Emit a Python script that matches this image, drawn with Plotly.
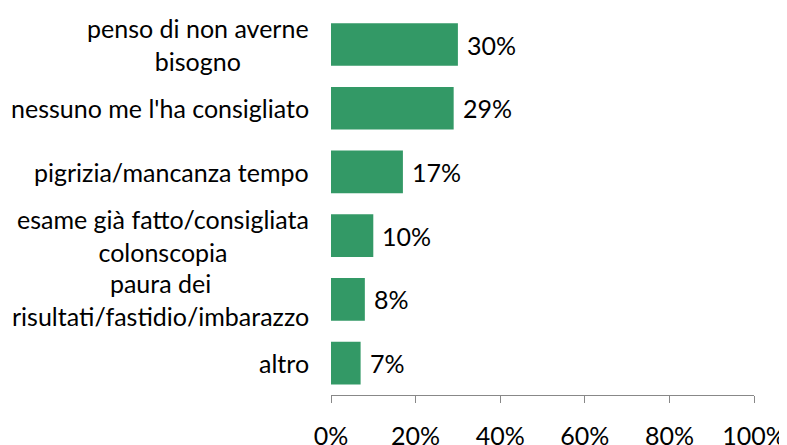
import plotly.graph_objects as go

categories = [
    "penso di non averne<br>bisogno",
    "nessuno me l'ha consigliato",
    "pigrizia/mancanza tempo",
    "esame già fatto/consigliata<br>colonscopia",
    "paura dei<br>risultati/fastidio/imbarazzo",
    "altro",
]
values = [0.30, 0.29, 0.17, 0.10, 0.08, 0.07]
value_labels = ["30%", "29%", "17%", "10%", "8%", "7%"]

FONT = "Lato, 'Liberation Sans', sans-serif"
FS = 25

fig = go.Figure()
fig.add_trace(go.Bar(
    x=values, y=categories, orientation="h",
    marker=dict(color="#339966", line=dict(width=0)),
    hoverinfo="skip",
))

annotations = []
for c, v, t in zip(categories, values, value_labels):
    annotations.append(dict(x=v, y=c, xref="x", yref="y", text=t, showarrow=False,
                            xanchor="left", yanchor="middle", xshift=7,
                            font=dict(family=FONT, size=FS, color="#000")))
    annotations.append(dict(x=0, y=c, xref="paper", yref="y", text=c, showarrow=False,
                            xanchor="right", yanchor="middle", xshift=-20, align="center",
                            font=dict(family=FONT, size=FS, color="#000")))

fig.update_layout(
    width=787, height=445,
    margin=dict(l=323, r=41, t=3, b=58),
    paper_bgcolor="white", plot_bgcolor="white",
    bargap=0.33,
    showlegend=False,
    annotations=annotations,
    font=dict(family=FONT, size=FS, color="#000"),
    xaxis=dict(range=[0, 1], dtick=0.2, tick0=0, tickformat=".0%",
               showgrid=False, zeroline=False, showline=True, linecolor="#888888",
               linewidth=1, ticks="outside", ticklen=7, tickcolor="#888888",
               ticklabelstandoff=12, automargin=False,
               tickfont=dict(family=FONT, size=FS, color="#000")),
    yaxis=dict(autorange="reversed", showticklabels=False, showgrid=False,
               zeroline=False, showline=False, ticks=""),
)

fig.write_html("out.html")
